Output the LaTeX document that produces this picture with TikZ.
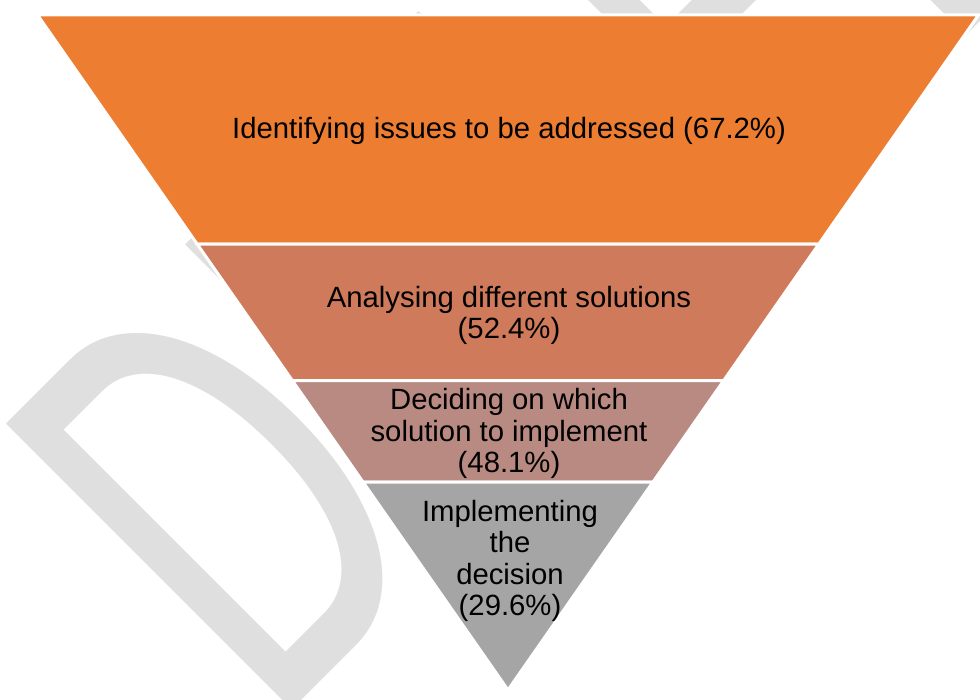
\documentclass[tikz,border=0pt]{standalone}
\usepackage{fontspec}
\setmainfont{Liberation Sans}
\newfontfamily\wmfont{Carlito}
\usetikzlibrary{calc}

\definecolor{lvlone}{RGB}{237,125,49}
\definecolor{lvltwo}{RGB}{208,122,92}
\definecolor{lvlthree}{RGB}{185,138,130}
\definecolor{lvlfour}{RGB}{165,165,165}
\definecolor{wmgray}{RGB}{223,223,223}

\tikzset{
  band/.style={fill=#1, draw=white, line width=1.5pt},
  lbl/.style={align=center, inner sep=0pt, font=\fontsize{14.65}{15.8}\selectfont},
}

\begin{document}
\begin{tikzpicture}[x=0.5pt, y=-0.5pt]
  \clip (0,0) rectangle (980,700);

  % watermark, sits behind the funnel
  \node[text=wmgray, rotate=45, anchor=base west, inner sep=0pt] (wm) at (272,730)
    {\wmfont\fontsize{315}{315}\selectfont\scalebox{0.65}[1]{DRAFT}};

  % funnel outline and the cut points between the levels
  \coordinate (tl) at (37.5,15);
  \coordinate (tr) at (978.5,15);
  \coordinate (apex) at (508,690);
  \foreach \n/\f in {a/0.6607, b/0.4585, c/0.3081} {
    \coordinate (l\n) at ($(apex)!\f!(tl)$);
    \coordinate (r\n) at ($(apex)!\f!(tr)$);
  }

  \draw[band=lvlone] (tl) -- (tr) -- (ra) -- (la) -- cycle;
  \draw[band=lvltwo] (la) -- (ra) -- (rb) -- (lb) -- cycle;
  \draw[band=lvlthree] (lb) -- (rb) -- (rc) -- (lc) -- cycle;
  \draw[band=lvlfour] (lc) -- (rc) -- (apex) -- cycle;

  % level labels
  \node[lbl] (issues) at (509,131) {Identifying issues to be addressed (67.2\%)};
  \node[lbl] (analyse) at (509,315.5) {Analysing different solutions\\(52.4\%)};
  \node[lbl] (decide) at (509,433.5) {Deciding on which\\solution to implement\\(48.1\%)};
  \node[lbl] (implement) at (510,561) {Implementing\\the\\decision\\(29.6\%)};
\end{tikzpicture}
\end{document}
